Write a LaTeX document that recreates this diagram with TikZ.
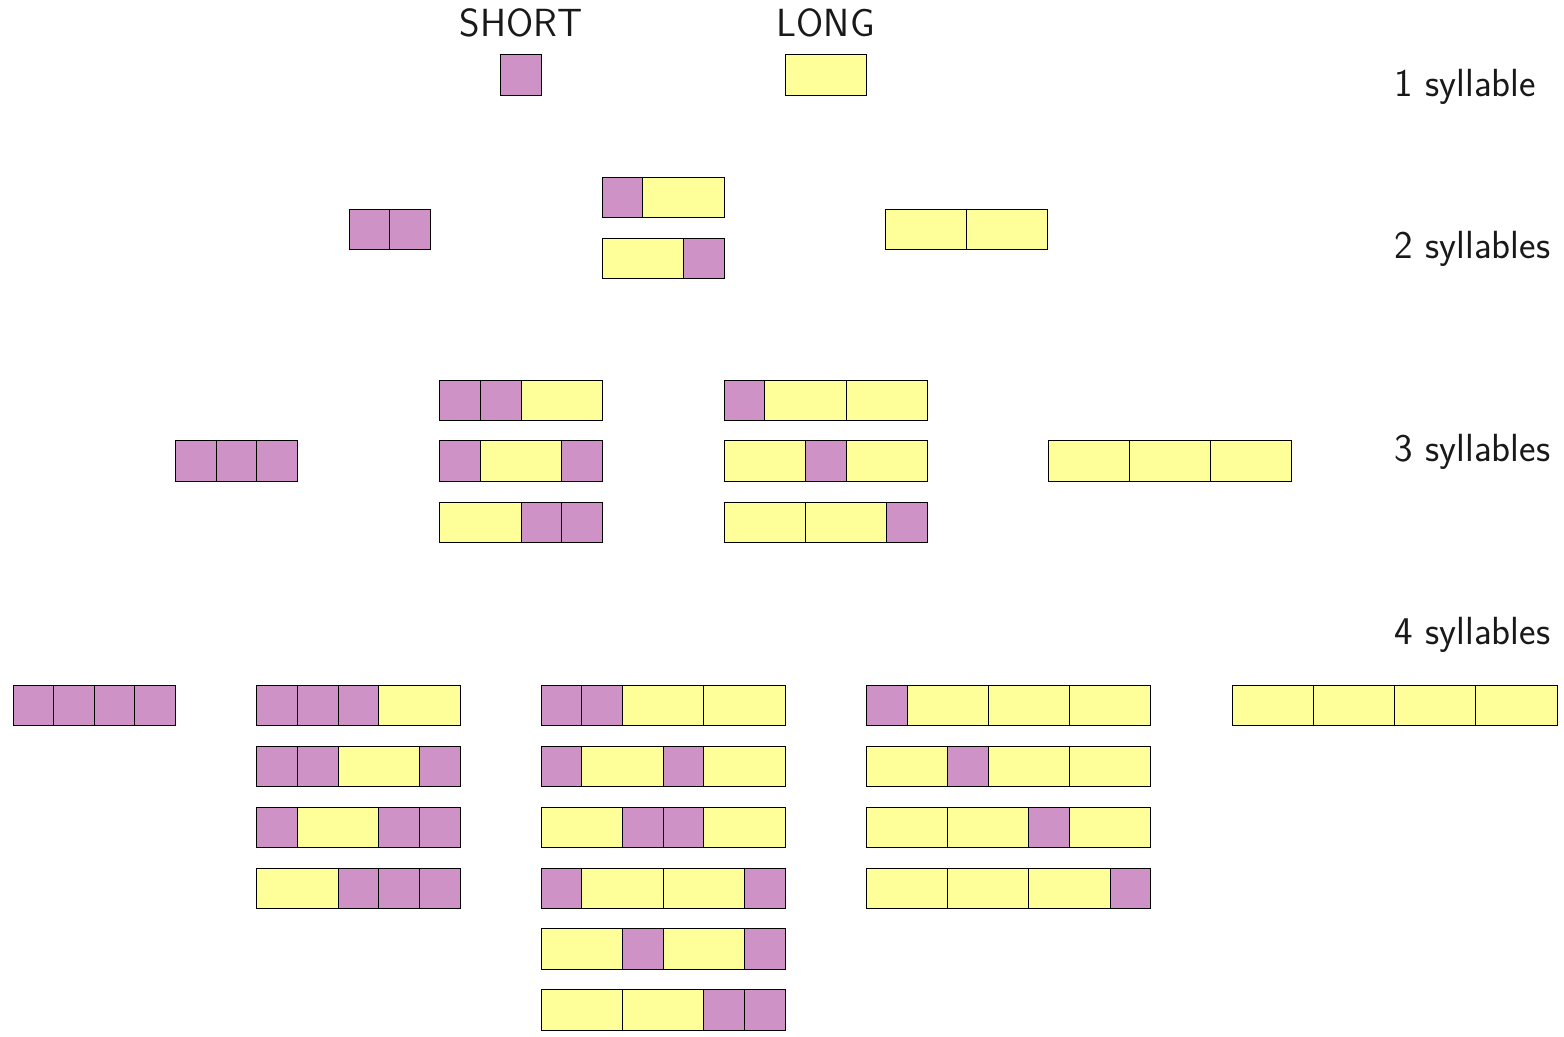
\documentclass[tikz,border=0pt]{standalone}
\usepackage{tikz}
\usetikzlibrary{positioning}
\definecolor{shortcol}{RGB}{207,146,199}
\definecolor{longcol}{RGB}{255,255,153}

\begin{document}
\begin{tikzpicture}[
  x=1cm,
  y=1cm,
  syl/.style={
    rectangle,
    draw=black,
    line width=0.6pt,
    minimum height=1cm,
    inner sep=0pt,
    outer sep=0pt
  },
  syl s/.style={syl, fill=shortcol, minimum width=1cm},
  syl l/.style={syl, fill=longcol, minimum width=2cm},
  head/.style={
    font=\sffamily\fontsize{27.5}{32}\selectfont,
    text=black!90,
    inner sep=0pt,
    anchor=base
  },
  rowlabel/.style={head, anchor=base west}
]
\useasboundingbox (-0.32,0) rectangle (38.17,-25.52);

\node[head] (short) at (12.5,-0.9) {SHORT};
\node[head] (long) at (20,-0.9) {LONG};

\node[rowlabel] (one) at (34.0,-2.38) {1 syllable};
\node[rowlabel] (two) at (34.0,-6.37) {2 syllables};
\node[rowlabel] (three) at (34.0,-11.36) {3 syllables};
\node[rowlabel] (four) at (34.0,-15.87) {4 syllables};

\foreach \nm/\x/\y/\seq in {
  s/12/-1.85/{s}, l/19/-1.85/{l},
  ss/8.27/-5.65/{s,s}, sl/14.5/-4.86/{s,l}, ls/14.5/-6.36/{l,s}, ll/21.46/-5.65/{l,l},
  sss/4/-11.35/{s,s,s},
  ssl/10.5/-9.85/{s,s,l}, sls/10.5/-11.35/{s,l,s}, lss/10.5/-12.86/{l,s,s},
  sll/17.5/-9.85/{s,l,l}, lsl/17.5/-11.35/{l,s,l}, lls/17.5/-12.86/{l,l,s},
  lll/25.47/-11.35/{l,l,l},
  ssss/0/-17.36/{s,s,s,s},
  sssl/6/-17.36/{s,s,s,l}, ssls/6/-18.86/{s,s,l,s}, slss/6/-20.36/{s,l,s,s}, lsss/6/-21.86/{l,s,s,s},
  ssll/13/-17.36/{s,s,l,l}, slsl/13/-18.86/{s,l,s,l}, lssl/13/-20.36/{l,s,s,l},
  slls/13/-21.86/{s,l,l,s}, lsls/13/-23.36/{l,s,l,s}, llss/13/-24.86/{l,l,s,s},
  slll/21/-17.36/{s,l,l,l}, lsll/21/-18.86/{l,s,l,l}, llsl/21/-20.36/{l,l,s,l}, llls/21/-21.86/{l,l,l,s},
  llll/30/-17.36/{l,l,l,l}%
} {
  \coordinate (\nm-0) at (\x,\y);
  \foreach \c [count=\i, remember=\i as \j (initially 0)] in \seq {
    \node[syl \c, right=0pt of \nm-\j] (\nm-\i) {};
  }
}
\end{tikzpicture}
\end{document}
